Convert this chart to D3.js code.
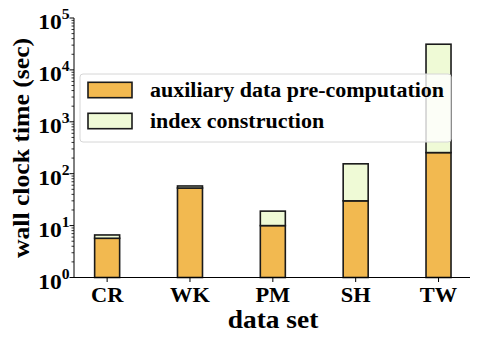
<!DOCTYPE html>
<html><head><meta charset="utf-8">
<script src="https://cdn.jsdelivr.net/npm/d3@7"></script>
<style>
body{margin:0;background:#fff;}
text{font-family:"Liberation Serif","Times New Roman",serif;font-weight:bold;fill:#000;}
</style></head>
<body><svg id="c" width="478" height="344"></svg>
<script>
const categories = ["CR","WK","PM","SH","TW"];
const auxData = [5.7, 53, 10, 30, 255];
const indexData = [0.9, 5, 9, 125, 31000];
const seriesNames = ["auxiliary data pre-computation","index construction"];
const yTickExps = [0,1,2,3,4,5];

(function(){
const colors = ["#F2B950","#EFFAD6"];
const svg = d3.select("#c");
const mL=74, mR=470, mT=18, mB=277.5;
const SX = 1.12;

const x = d3.scaleLinear().domain([-0.4,4.38]).range([mL,mR]);
const y = d3.scaleLog().domain([1,1e5]).range([mB,mT]);
const bw = 25;

function txt(parent, px, py, size, anchor, str, rot, sx){
  return parent.append("text")
    .attr("transform",`translate(${px},${py})${rot?` rotate(${rot})`:""} scale(${sx||SX},1)`)
    .attr("text-anchor",anchor).attr("font-size",size).text(str);
}

const g = svg.append("g");
categories.forEach((c,i)=>{
  const a = auxData[i], t = auxData[i]+indexData[i];
  g.append("rect").attr("x",x(i)-bw/2).attr("width",bw)
    .attr("y",y(a)).attr("height",y(1)-y(a))
    .attr("fill",colors[0]).attr("stroke","#1a1a1a").attr("stroke-width",1.6);
  g.append("rect").attr("x",x(i)-bw/2).attr("width",bw)
    .attr("y",y(t)).attr("height",y(a)-y(t))
    .attr("fill",colors[1]).attr("stroke","#1a1a1a").attr("stroke-width",1.6);
});

const yAxis = svg.append("g");
yAxis.append("line").attr("x1",mL).attr("x2",mL).attr("y1",mT).attr("y2",mB).attr("stroke","#000").attr("stroke-width",1);
for(let e=0;e<5;e++){
  for(let m=2;m<=9;m++){
    const v=m*Math.pow(10,e);
    yAxis.append("line").attr("x1",mL-2.5).attr("x2",mL).attr("y1",y(v)).attr("y2",y(v)).attr("stroke","#000").attr("stroke-width",0.8);
  }
}
yTickExps.forEach(e=>{
  const v=Math.pow(10,e);
  yAxis.append("line").attr("x1",mL-4.5).attr("x2",mL).attr("y1",y(v)).attr("y2",y(v)).attr("stroke","#000").attr("stroke-width",1);
  const t=yAxis.append("text").attr("transform",`translate(69.5,${y(v)+11}) scale(${SX},1)`)
    .attr("text-anchor","end").attr("font-size",21);
  t.append("tspan").text("10");
  t.append("tspan").attr("dy",-10).attr("font-size",14).text(e);
});

const xAxis = svg.append("g");
xAxis.append("line").attr("x1",mL).attr("x2",mR).attr("y1",mB).attr("y2",mB).attr("stroke","#000").attr("stroke-width",1);
categories.forEach((c,i)=>{
  xAxis.append("line").attr("x1",x(i)).attr("x2",x(i)).attr("y1",mB).attr("y2",mB+4.5).attr("stroke","#000");
  txt(xAxis, x(i), 301.7, 20, "middle", c);
});

txt(svg, 273, 328.3, 24.5, "middle", "data set");
txt(svg, 29.3, 148, 24, "middle", "wall clock time (sec)", -90, 1.07);

const lg = svg.append("g");
lg.append("rect").attr("x",80).attr("y",74).attr("width",371).attr("height",68).attr("rx",3)
  .attr("fill","#fff").attr("fill-opacity",0.8).attr("stroke","#d6d6d6").attr("stroke-width",1);
seriesNames.forEach((n,i)=>{
  const yy = 82.3 + i*31;
  lg.append("rect").attr("x",88).attr("y",yy).attr("width",44).attr("height",15.4)
    .attr("fill",colors[i]).attr("stroke","#1a1a1a").attr("stroke-width",1.6);
  txt(lg, 150, 97.3 + i*31, 20, "start", n, 0, 1.1);
});
})();
</script></body></html>
